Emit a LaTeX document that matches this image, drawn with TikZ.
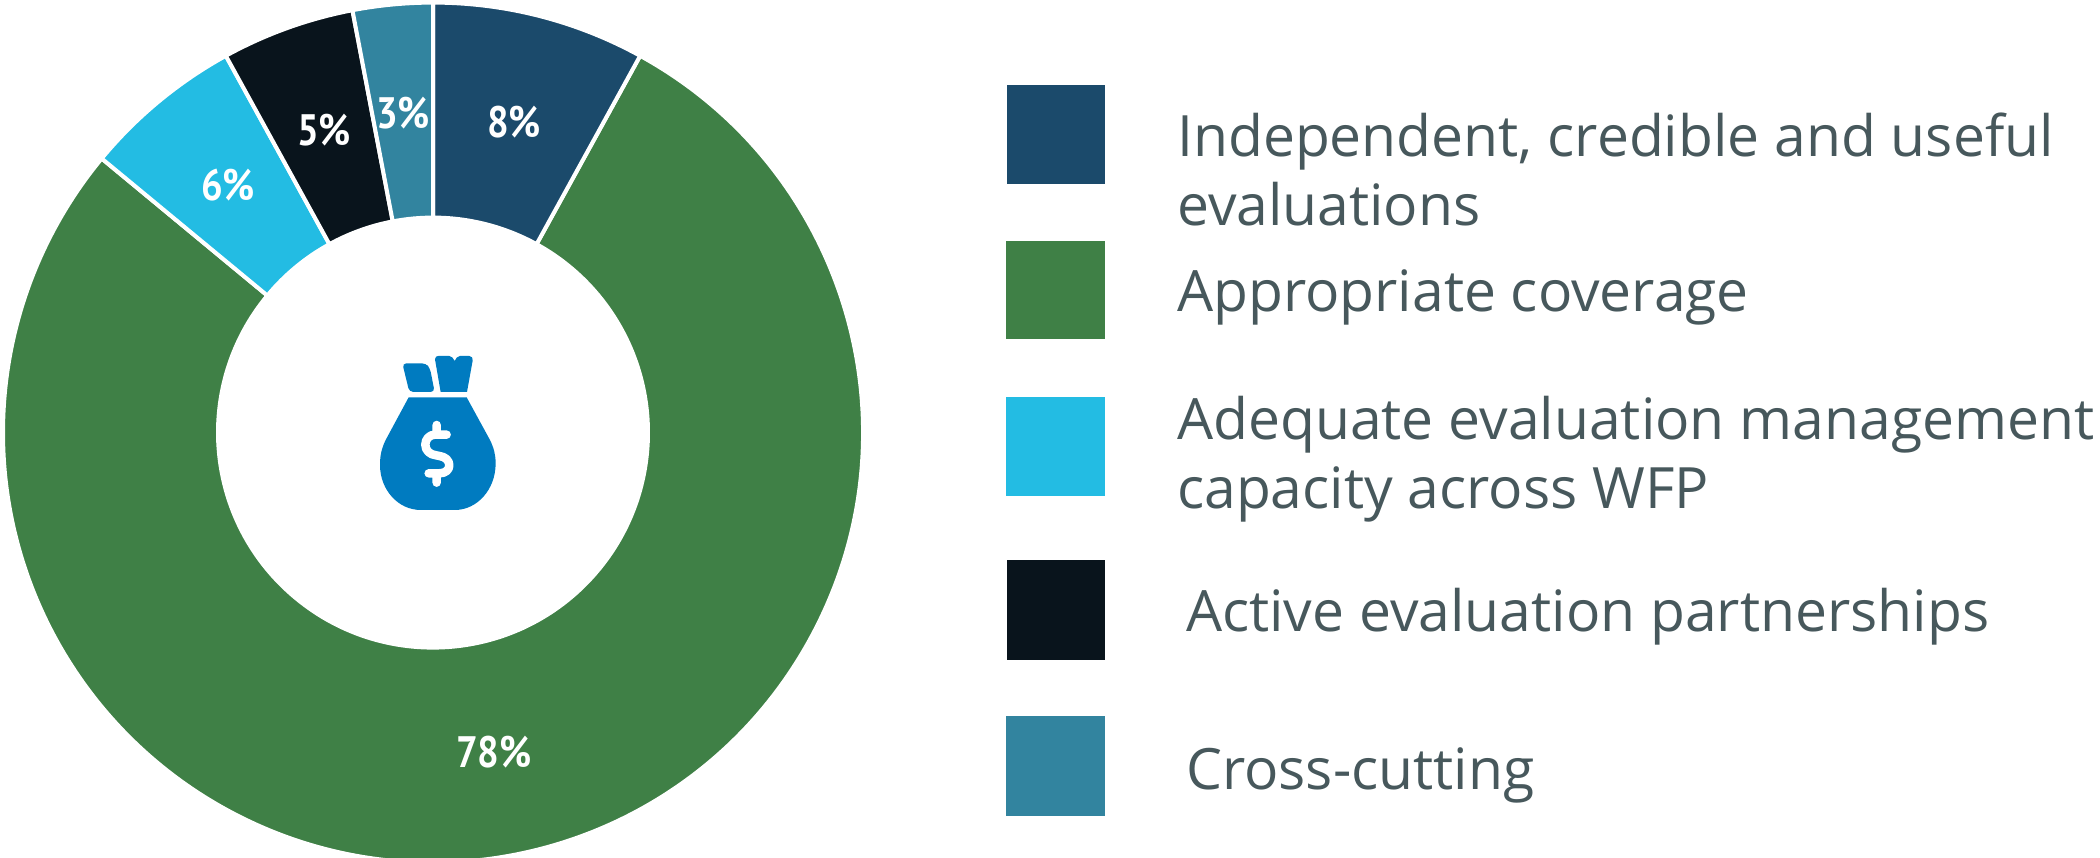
\documentclass[tikz,border=0pt]{standalone}
\usepackage{fontspec}
\setmainfont{Open Sans}
\newfontfamily\pctfont{PT Sans}
\usetikzlibrary{calc}
\definecolor{navyc}{HTML}{1B4A6B}
\definecolor{greenc}{HTML}{3F8046}
\definecolor{skyc}{HTML}{23BCE3}
\definecolor{inkc}{HTML}{09141C}
\definecolor{tealc}{HTML}{32849F}
\definecolor{bagc}{HTML}{007BC0}
\definecolor{textc}{HTML}{47585C}
\tikzset{
  slice/.style={draw=white,line width=4pt,line join=miter},
  pct/.style={text=white,font=\pctfont\bfseries\fontsize{44}{50}\selectfont,inner sep=0pt,xscale=0.87,transform shape},
  swatch/.style={inner sep=0pt,minimum width=97.5pt,anchor=north west},
  legend/.style={text=textc,font=\fontsize{57}{69}\selectfont,inner sep=0pt,anchor=base west,align=left},
}
\newcommand{\donutslice}[3]{%
  \fill[#1,slice] (433pt,425.4pt) ++(#2:430pt) arc[start angle=#2,end angle=#3,radius=430pt]
    -- ($(433pt,425.4pt)+(#3:215pt)$) arc[start angle=#3,end angle=#2,radius=215pt] -- cycle;}
\begin{document}
\begin{tikzpicture}[x=1pt,y=1pt]
\useasboundingbox (0,0) rectangle (2100,858);
\clip (0,0) rectangle (2100,858);
\donutslice{greenc}{61.2}{-219.6}
\donutslice{navyc}{90}{61.2}
\donutslice{skyc}{140.4}{118.8}
\donutslice{inkc}{118.8}{100.8}
\donutslice{tealc}{100.8}{90}
\node[pct] (p8) at (514,736) {8\%};
\node[pct] (p78) at (494,106) {78\%};
\node[pct] (p6) at (228,673) {6\%};
\node[pct] (p5) at (324,728) {5\%};
\node[pct] (p3) at (403,745) {3\%};
% money bag
\begin{scope}[shift={(350,518)},x=0.3333pt,y=-0.3333pt]
\fill[bagc,rounded corners=4pt] (157,70) -- (228,70) -- (240,85) -- (254,156) -- (178,156) -- cycle;
\fill[bagc,line join=round] (255,58) .. controls (255,50) and (260,48) .. (265,48) -- (298,48) .. controls (305,48) and (310,55) .. (314,63) .. controls (318,55) and (322,48) .. (330,48) -- (358,48) .. controls (366,48) and (369,54) .. (368,62) -- (351,156) -- (272,156) -- cycle;
\fill[bagc] (176,172) -- (350,172) -- (420,300) .. controls (432,325) and (437,345) .. (437,370)
  .. controls (437,450) and (380,510) .. (315,510) -- (212,510)
  .. controls (145,510) and (90,450) .. (90,375) .. controls (90,345) and (95,325) .. (107,300) -- cycle;
\draw[white,line width=8.5pt,line cap=round,line join=round]
  (260,255) -- (260,282)
  (290,284) -- (255,284) .. controls (238,284) and (226,298) .. (226,314) .. controls (226,332) and (240,344) .. (258,346)
  -- (268,348) .. controls (286,350) and (298,362) .. (298,376) .. controls (298,390) and (286,400) .. (268,400) -- (236,400)
  (260,400) -- (260,428);
\end{scope}
% legend
\node[swatch,fill=navyc,minimum height=99pt] (s1) at (1007,773) {};
\node[swatch,fill=greenc,minimum height=98pt,minimum width=98.5pt] (s2) at (1006,617) {};
\node[swatch,fill=skyc,minimum height=99pt,minimum width=98.5pt] (s3) at (1006,461) {};
\node[swatch,fill=inkc,minimum height=100pt] (s4) at (1007,298) {};
\node[swatch,fill=tealc,minimum height=100pt,minimum width=98.5pt] (s5) at (1006,142) {};
\node[legend] (t1) at (1177,632) {Independent, credible and useful\\evaluations};
\node[legend] (t2) at (1177,546) {Appropriate coverage};
\node[legend] (t3) at (1177,349) {Adequate evaluation management\\capacity across WFP};
\node[legend] (t4) at (1186,226) {Active evaluation partnerships};
\node[legend] (t5) at (1186,68) {Cross-cutting};
\end{tikzpicture}
\end{document}
